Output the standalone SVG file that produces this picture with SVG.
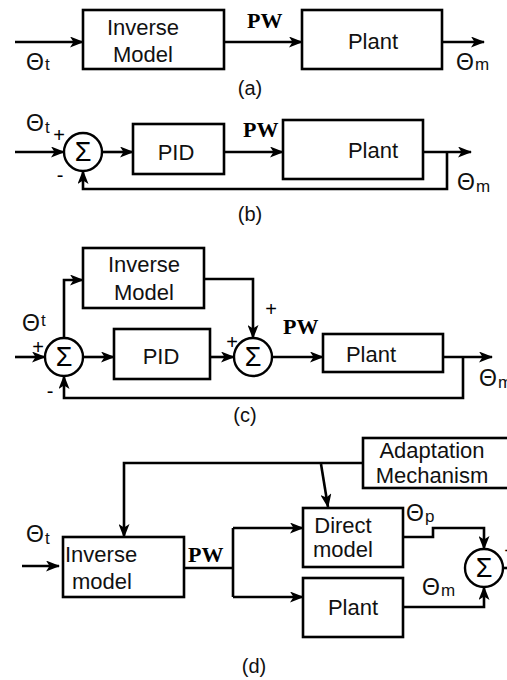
<svg xmlns="http://www.w3.org/2000/svg" width="507" height="680" viewBox="0 0 507 680">
<style>
.box{fill:none;stroke:#000;stroke-width:2.6}
.sum{fill:#fff;stroke:#000;stroke-width:2.4}
.ln{fill:none;stroke:#000;stroke-width:2.6}
.ar{fill:none;stroke:#000;stroke-width:2.6;marker-end:url(#ah)}
.t{font-family:"Liberation Sans",Arial,sans-serif;font-size:22px;fill:#111;text-anchor:middle}
.tl{font-family:"Liberation Sans",Arial,sans-serif;font-size:22px;fill:#111}
.th{font-family:"Liberation Sans",Arial,sans-serif;font-size:23px;fill:#111}
.sub{font-size:17px}
.pw{font-family:"Liberation Serif","Times New Roman",serif;font-weight:bold;font-size:22px;fill:#000}
.sg{font-family:"Liberation Sans",Arial,sans-serif;font-size:27px;fill:#000;text-anchor:middle}
.pm{font-family:"Liberation Sans",Arial,sans-serif;font-size:20px;fill:#000;text-anchor:middle}
.cap{font-family:"Liberation Sans",Arial,sans-serif;font-size:20px;fill:#111;text-anchor:middle}
</style>
<defs>
<marker id="ah" markerUnits="userSpaceOnUse" markerWidth="14" markerHeight="11" viewBox="0 0 14 11" refX="13" refY="5.5" orient="auto">
<path d="M0,0 L14,5.5 L0,11 L3.5,5.5 Z" fill="#000"/>
</marker>
</defs>
<rect width="507" height="680" fill="#fff"/>

<!-- (a) -->
<g id="a-inverse"><rect class="box" x="83" y="10" width="141" height="59"/><text class="t" x="143" y="35">Inverse</text><text class="t" x="143" y="62">Model</text></g>
<g id="a-plant"><rect class="box" x="302" y="10" width="140" height="59"/><text class="t" x="373" y="49">Plant</text></g>
<g id="a-connectors">
<path class="ar" d="M15,42 H83"/>
<path class="ar" d="M224,42 H302"/>
<path class="ar" d="M442,42 H484"/>
</g>
<g id="a-labels">
<text class="pw" x="247" y="28">PW</text>
<text class="th" x="26" y="70">Θ<tspan class="sub" dx="1">t</tspan></text>
<text class="th" x="456" y="70">Θ<tspan class="sub" dx="1">m</tspan></text>
<text class="cap" x="250" y="95">(a)</text>
</g>

<!-- (b) -->
<g id="b-sum"><circle class="sum" cx="83" cy="152" r="19"/><text class="sg" x="83" y="161">Σ</text></g>
<g id="b-pid"><rect class="box" x="133" y="124" width="91" height="50"/><text class="t" x="176" y="160">PID</text></g>
<g id="b-plant"><rect class="box" x="283" y="120" width="140" height="59"/><text class="t" x="373" y="158">Plant</text></g>
<g id="b-connectors">
<path class="ar" d="M15,152 H64"/>
<path class="ar" d="M102,152 H133"/>
<path class="ar" d="M224,152 H283"/>
<path class="ar" d="M423,152 H471"/>
<path class="ar" d="M447,152 V189 H83 V171"/>
</g>
<g id="b-labels">
<text class="pw" x="243" y="137">PW</text>
<text class="th" x="26" y="131">Θ<tspan class="sub" dx="1" dy="2">t</tspan></text>
<text class="pm" x="59" y="142">+</text>
<text class="pm" x="60" y="182">-</text>
<text class="th" x="457" y="190">Θ<tspan class="sub" dx="1" dy="2">m</tspan></text>
<text class="cap" x="250" y="221">(b)</text>
</g>

<!-- (c) -->
<g id="c-sum1"><circle class="sum" cx="64" cy="357" r="19"/><text class="sg" x="64" y="366">Σ</text></g>
<g id="c-inverse"><rect class="box" x="83" y="248" width="121" height="60"/><text class="t" x="144" y="272">Inverse</text><text class="t" x="144" y="300">Model</text></g>
<g id="c-pid"><rect class="box" x="114" y="329" width="96" height="50"/><text class="t" x="161" y="364">PID</text></g>
<g id="c-sum2"><circle class="sum" cx="253" cy="357" r="19"/><text class="sg" x="253" y="366">Σ</text></g>
<g id="c-plant"><rect class="box" x="323" y="334" width="120" height="38"/><text class="t" x="371" y="362">Plant</text></g>
<g id="c-connectors">
<path class="ar" d="M15,357 H45"/>
<path class="ar" d="M64,338 V280 H83"/>
<path class="ar" d="M83,357 H114"/>
<path class="ar" d="M210,357 H234"/>
<path class="ar" d="M204,279 H253 V338"/>
<path class="ar" d="M272,357 H323"/>
<path class="ar" d="M443,357 H492"/>
<path class="ar" d="M463,357 V398 H64 V376"/>
</g>
<g id="c-labels">
<text class="th" x="22" y="331">Θ<tspan class="sub" dx="1" dy="-5">t</tspan></text>
<text class="pm" x="38" y="354">+</text>
<text class="pm" x="50" y="398">-</text>
<text class="pm" x="271" y="316">+</text>
<text class="pm" x="232" y="349">+</text>
<text class="pw" x="283" y="334">PW</text>
<text class="th" x="479" y="386">Θ<tspan class="sub" dx="1" dy="2">m</tspan></text>
<text class="cap" x="245" y="422">(c)</text>
</g>

<!-- (d) -->
<g id="d-adapt"><rect class="box" x="363" y="438" width="160" height="50"/><text class="t" x="432" y="458">Adaptation</text><text class="t" x="432" y="483">Mechanism</text></g>
<g id="d-inverse"><rect class="box" x="63" y="537" width="121" height="60"/><text class="tl" x="65" y="562">Inverse</text><text class="tl" x="72" y="589">model</text></g>
<g id="d-direct"><rect class="box" x="303" y="508" width="100" height="59"/><text class="t" x="343" y="533">Direct</text><text class="t" x="343" y="557">model</text></g>
<g id="d-plant"><rect class="box" x="303" y="578" width="100" height="59"/><text class="t" x="353" y="615">Plant</text></g>
<g id="d-sum"><circle class="sum" cx="484" cy="568" r="19"/><text class="sg" x="484" y="577">Σ</text></g>
<g id="d-connectors">
<path class="ar" d="M363,463 H124 V537"/>
<path class="ar" d="M321,464 L328,507"/>
<path class="ar" d="M22,566 H59"/>
<path class="ln" d="M184,568 H233 M233,528 V597"/>
<path class="ar" d="M233,528 H303"/>
<path class="ar" d="M233,597 H303"/>
<path class="ar" d="M403,537 H433 V528 H484 V549"/>
<path class="ar" d="M403,607 H484 V587"/>
<path class="ln" d="M503,568 H510"/>
</g>
<g id="d-labels">
<text class="th" x="26" y="542">Θ<tspan class="sub" dx="1" dy="2">t</tspan></text>
<text class="pw" x="188" y="562">PW</text>
<text class="th" x="406" y="521">Θ<tspan class="sub" dx="1" dy="1">p</tspan></text>
<text class="th" x="422" y="595">Θ<tspan class="sub" dx="1" dy="1">m</tspan></text>
<text class="pm" x="510" y="558">+</text>
<text class="pm" x="510" y="598">-</text>
<text class="cap" x="254" y="673">(d)</text>
</g>
</svg>
